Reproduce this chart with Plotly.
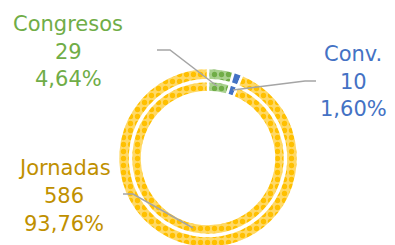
import plotly.graph_objects as go

categories = ["Congresos", "Conv.", "Jornadas"]
values = [29, 10, 586]
pct_labels = ["4,64%", "1,60%", "93,76%"]
base_colors = ["#A9D18E", "#4472C4", "#FFD966"]
dot_colors = ["#70AD47", "#4472C4", "#FFC000"]
text_colors = ["#70AD47", "#4472C4", "#BF9000"]

# page body adds an 8px offset; layout is expressed in target pixels minus that offset
OFF = 8
W, H = 395, 252
cx, cy = 208 - OFF, 158 - OFF


def px(x, y):
    return (x - OFF) / W, 1 - (y - OFF) / H


def dom(r):
    return dict(x=[(cx - r) / W, (cx + r) / W], y=[1 - (cy + r) / H, 1 - (cy - r) / H])


fig = go.Figure()
for r, hole in [(90, 78 / 90), (77, 66 / 77)]:
    fig.add_trace(go.Pie(
        labels=categories, values=values, sort=False, direction="clockwise", rotation=0,
        hole=hole, domain=dom(r), textinfo="none", hoverinfo="label+value+percent",
        marker=dict(colors=base_colors, line=dict(color="white", width=2.5),
                    pattern=dict(shape=".", fgcolor=dot_colors, bgcolor=base_colors,
                                 size=7, solidity=0.45)),
        showlegend=False,
    ))

# label blocks: (center x px, [line center y px]) in target picture pixels
label_pos = {
    "Congresos": (68, [24, 52, 79]),
    "Conv.": (353, [54, 82, 109]),
    "Jornadas": (64, [168, 196, 224]),
}
annotations = []
for i, cat in enumerate(categories):
    x0, ys = label_pos[cat]
    for txt, y in zip([cat, str(values[i]), pct_labels[i]], ys):
        ax, ay = px(x0, y)
        annotations.append(dict(x=ax, y=ay, xref="paper", yref="paper",
                                text=txt, showarrow=False, xanchor="center", yanchor="middle",
                                font=dict(family="DejaVu Sans", size=21, color=text_colors[i])))

leaders = [
    [(157, 50), (170, 50), (217, 86)],
    [(316, 81), (305, 81), (233, 90)],
    [(123, 194), (133, 194), (193, 228)],
]
shapes = []
for pts in leaders:
    path = "M " + " L ".join("{},{}".format(*px(x, y)) for x, y in pts)
    shapes.append(dict(type="path", xref="paper", yref="paper", path=path,
                       line=dict(color="#A5A5A5", width=1.5)))

fig.update_layout(width=W, height=H, margin=dict(l=0, r=0, t=0, b=0),
                  paper_bgcolor="white", plot_bgcolor="white",
                  annotations=annotations, shapes=shapes)
fig.write_html("out.html")
